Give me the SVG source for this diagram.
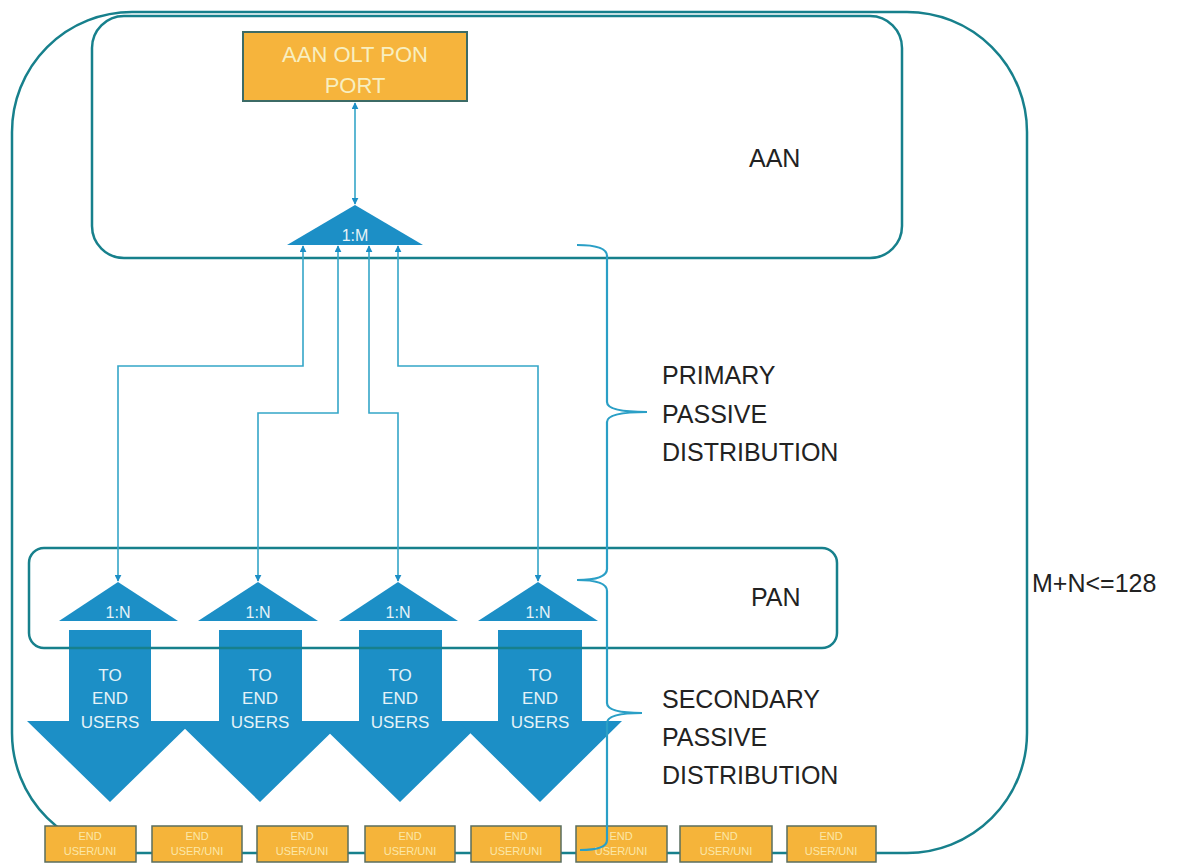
<svg xmlns="http://www.w3.org/2000/svg" width="1202" height="865" viewBox="0 0 1202 865">
<style>
.frame{fill:none;stroke:#17808c;stroke-width:2.5}
.split{fill:#1c8fc6}
.arrow{fill:#1c8fc6}
.wt{fill:#e6f3f8;font-family:"Liberation Sans",Arial,sans-serif;text-anchor:middle}
.lbl{fill:#222;font-family:"Liberation Sans",Arial,sans-serif;font-size:25px}
.eu{fill:#f5b43a;stroke:#5a6e5e;stroke-width:1.5}
.eut{fill:#fbe7a8;font-family:"Liberation Sans",Arial,sans-serif;font-size:11px;text-anchor:middle}
.conn{fill:none;stroke:#35a6c8;stroke-width:1.6}
.brace{fill:none;stroke:#2a9fc6;stroke-width:2.2}
</style>
<defs>
<marker id="ah" viewBox="0 0 10 10" refX="9" refY="5" markerWidth="7" markerHeight="7" markerUnits="userSpaceOnUse" orient="auto-start-reverse">
<path d="M0,0 L10,5 L0,10 z" fill="#1c8fc6"/>
</marker>
</defs>
<rect width="1202" height="865" fill="#ffffff"/>

<g id="outer">
<rect class="frame" x="12" y="12" width="1015" height="841" rx="120" ry="120"/>
<text class="lbl" x="1032" y="592">M+N&lt;=128</text>
</g>

<g id="aan">
<rect class="frame" x="92" y="16" width="810" height="242" rx="32" ry="32"/>
<text class="lbl" x="749" y="167">AAN</text>
</g>

<g id="olt-port">
<rect x="243" y="32" width="224" height="69" fill="#f6b43c" stroke="#3c6b66" stroke-width="2"/>
<text class="wt" x="355" y="62" font-size="22" style="fill:#f8efc0">AAN OLT PON</text>
<text class="wt" x="355" y="93" font-size="22" style="fill:#f8efc0">PORT</text>
</g>

<g id="splitter-1M">
<polygon class="split" points="355,205 287,245 423,245"/>
<text class="wt" x="355" y="241" font-size="16">1:M</text>
</g>

<g id="splitter-1N-1">
<polygon class="split" points="118,582 59,621 178,621"/>
<text class="wt" x="118" y="618" font-size="16">1:N</text>
</g>
<g id="splitter-1N-2">
<polygon class="split" points="258,582 198,621 318,621"/>
<text class="wt" x="258" y="618" font-size="16">1:N</text>
</g>
<g id="splitter-1N-3">
<polygon class="split" points="398,582 339,621 458,621"/>
<text class="wt" x="398" y="618" font-size="16">1:N</text>
</g>
<g id="splitter-1N-4">
<polygon class="split" points="538,582 478,621 598,621"/>
<text class="wt" x="538" y="618" font-size="16">1:N</text>
</g>

<g id="to-end-users-1">
<polygon class="arrow" points="69,630 151,630 151,721 193,721 110,802 27,721 69,721"/>
<text class="wt" x="110" y="681" font-size="17">TO</text>
<text class="wt" x="110" y="704" font-size="17">END</text>
<text class="wt" x="110" y="728" font-size="17">USERS</text>
</g>
<g id="to-end-users-2">
<polygon class="arrow" points="219,630 302,630 302,721 343,721 260,802 177,721 219,721"/>
<text class="wt" x="260" y="681" font-size="17">TO</text>
<text class="wt" x="260" y="704" font-size="17">END</text>
<text class="wt" x="260" y="728" font-size="17">USERS</text>
</g>
<g id="to-end-users-3">
<polygon class="arrow" points="359,630 442,630 442,721 483,721 400,802 317,721 359,721"/>
<text class="wt" x="400" y="681" font-size="17">TO</text>
<text class="wt" x="400" y="704" font-size="17">END</text>
<text class="wt" x="400" y="728" font-size="17">USERS</text>
</g>
<g id="to-end-users-4">
<polygon class="arrow" points="498,630 582,630 582,721 622,721 540,802 458,721 498,721"/>
<text class="wt" x="540" y="681" font-size="17">TO</text>
<text class="wt" x="540" y="704" font-size="17">END</text>
<text class="wt" x="540" y="728" font-size="17">USERS</text>
</g>

<g id="pan">
<rect class="frame" x="29" y="548" width="808" height="100" rx="15" ry="15"/>
<text class="lbl" x="751" y="606">PAN</text>
</g>

<g id="labels">
<text class="lbl" x="662" y="384">PRIMARY</text>
<text class="lbl" x="662" y="423">PASSIVE</text>
<text class="lbl" x="662" y="461">DISTRIBUTION</text>
<text class="lbl" x="662" y="708">SECONDARY</text>
<text class="lbl" x="662" y="746">PASSIVE</text>
<text class="lbl" x="662" y="784">DISTRIBUTION</text>
</g>

<g id="end-users">
<g id="eu1"><rect class="eu" x="45" y="826" width="91" height="36"/><text class="eut" x="90" y="840">END</text><text class="eut" x="90" y="855">USER/UNI</text></g>
<g id="eu2"><rect class="eu" x="152" y="826" width="90" height="36"/><text class="eut" x="197" y="840">END</text><text class="eut" x="197" y="855">USER/UNI</text></g>
<g id="eu3"><rect class="eu" x="257" y="826" width="91" height="36"/><text class="eut" x="302" y="840">END</text><text class="eut" x="302" y="855">USER/UNI</text></g>
<g id="eu4"><rect class="eu" x="365" y="826" width="90" height="36"/><text class="eut" x="410" y="840">END</text><text class="eut" x="410" y="855">USER/UNI</text></g>
<g id="eu5"><rect class="eu" x="471" y="826" width="90" height="36"/><text class="eut" x="516" y="840">END</text><text class="eut" x="516" y="855">USER/UNI</text></g>
<g id="eu6"><rect class="eu" x="576" y="826" width="91" height="36"/><text class="eut" x="621" y="840">END</text><text class="eut" x="621" y="855">USER/UNI</text></g>
<g id="eu7"><rect class="eu" x="680" y="826" width="92" height="36"/><text class="eut" x="726" y="840">END</text><text class="eut" x="726" y="855">USER/UNI</text></g>
<g id="eu8"><rect class="eu" x="787" y="826" width="89" height="36"/><text class="eut" x="831" y="840">END</text><text class="eut" x="831" y="855">USER/UNI</text></g>
</g>

<g id="connectors">
<line class="conn" x1="355" y1="103" x2="355" y2="204" marker-start="url(#ah)" marker-end="url(#ah)"/>
<path class="conn" d="M303,246 L303,366 L118,366 L118,581" marker-start="url(#ah)" marker-end="url(#ah)"/>
<path class="conn" d="M338,246 L338,413 L258,413 L258,581" marker-start="url(#ah)" marker-end="url(#ah)"/>
<path class="conn" d="M369,246 L369,413 L398,413 L398,581" marker-start="url(#ah)" marker-end="url(#ah)"/>
<path class="conn" d="M398,246 L398,366 L538,366 L538,581" marker-start="url(#ah)" marker-end="url(#ah)"/>
<path class="brace" d="M577,245 Q607,245 607,256 L607,402 Q607,412 647,412 Q607,412 607,422 L607,569 Q607,580 577,580 Q607,580 607,591 L607,703 Q607,713 642,713 Q607,713 607,723 L607,840 Q607,850 580,850"/>
</g>
</svg>
